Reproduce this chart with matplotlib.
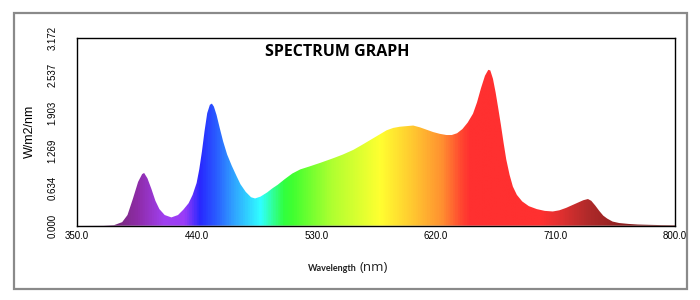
import numpy as np
import matplotlib
matplotlib.use("Agg")
import matplotlib.pyplot as plt
from matplotlib.colors import LinearSegmentedColormap
from matplotlib.patches import Rectangle

# ---- data ----
wavelength = [350, 370, 378, 384, 388, 392, 396, 399, 400.5, 403, 406, 409, 412, 416, 421,
              426, 430, 434, 437, 440, 442, 444, 446, 448, 450, 451.5, 453, 455, 457.5, 460,
              463, 466.5, 470, 473, 477, 481, 484, 488, 493, 497, 501, 506, 512, 518, 525,
              533, 543, 550, 558, 565, 571, 577, 583, 588, 593, 598, 603, 608, 613, 618,
              623, 628, 632, 636, 640, 644, 648, 651, 654, 657, 659.5, 661, 663, 665, 667,
              669, 671, 673, 675.5, 678, 681, 685, 690, 696, 702, 708, 713, 718, 723, 727,
              731, 734.5, 737, 740, 743, 746, 749, 753, 758, 765, 772, 780, 790, 800]
irradiance = [0.0, 0.002, 0.01, 0.06, 0.18, 0.45, 0.74, 0.87, 0.89, 0.80, 0.62, 0.42, 0.28, 0.18, 0.14,
              0.18, 0.27, 0.38, 0.52, 0.72, 0.95, 1.25, 1.60, 1.90, 2.04, 2.06, 2.01, 1.87, 1.64, 1.42,
              1.20, 1.01, 0.84, 0.70, 0.57, 0.48, 0.46, 0.49, 0.56, 0.63, 0.69, 0.78, 0.88, 0.95, 1.00,
              1.06, 1.14, 1.20, 1.28, 1.37, 1.45, 1.53, 1.61, 1.65, 1.67, 1.68, 1.69, 1.66, 1.62, 1.58,
              1.55, 1.53, 1.53, 1.56, 1.63, 1.74, 1.89, 2.08, 2.32, 2.53, 2.63, 2.62, 2.48, 2.25, 1.98,
              1.70, 1.40, 1.12, 0.86, 0.66, 0.52, 0.41, 0.33, 0.28, 0.25, 0.24, 0.26, 0.30, 0.35, 0.39,
              0.43, 0.45, 0.42, 0.34, 0.25, 0.17, 0.12, 0.07, 0.045, 0.03, 0.02, 0.015, 0.01, 0.008]
x_ticks = [350.0, 440.0, 530.0, 620.0, 710.0, 800.0]
y_ticks = [0.000, 0.634, 1.269, 1.903, 2.537, 3.172]
title = "SPECTRUM GRAPH"
y_label = "W/m2/nm"

# ---- colour gradient (style) ----
stops = [(350, "#5a1a5a"), (380, "#7a2a80"), (395, "#8e2ca8"), (415, "#a040f0"),
         (430, "#9a3cf8"), (442, "#2828ff"), (455, "#2a60ff"), (467, "#30a0ff"),
         (488, "#30ffff"), (505, "#30ff40"), (512, "#40ff30"), (542, "#b0ff30"),
         (578, "#ffff30"), (606, "#ffc030"), (625, "#ff9030"), (640, "#ff4530"),
         (646, "#ff3030"), (700, "#ff3030"), (715, "#e03030"), (735, "#b02a2a"),
         (760, "#902020"), (800, "#701818")]
xmin, xmax = x_ticks[0], x_ticks[-1]
ymin, ymax = y_ticks[0], y_ticks[-1]
cmap = LinearSegmentedColormap.from_list(
    "spec", [((w - xmin) / (xmax - xmin), c) for w, c in stops])

fig = plt.figure(figsize=(7, 3), dpi=100)
fig.patch.set_facecolor("white")
fig.patches.append(Rectangle((14 / 700, 1 - 288.7 / 300), (686.7 - 14) / 700,
                             (288.7 - 13.3) / 300, transform=fig.transFigure,
                             fill=False, edgecolor="#8a8a8a", lw=1.6))

ax = fig.add_axes([77 / 700, 1 - 225.7 / 300, (675 - 77) / 700, (225.7 - 37.7) / 300])
ax.set_xlim(xmin, xmax)
ax.set_ylim(ymin, ymax)

poly = ax.fill_between(wavelength, irradiance, 0, color="none", lw=0)
grad = np.linspace(0, 1, 900).reshape(1, -1)
im = ax.imshow(grad, cmap=cmap, aspect="auto", extent=[xmin, xmax, ymin, ymax],
               origin="lower", interpolation="bilinear")
path = poly.get_paths()[0]
im.set_clip_path(path, transform=ax.transData)

for s in ax.spines.values():
    s.set_color("black")
    s.set_linewidth(1.0)

ax.set_xticks(x_ticks)
ax.set_xticklabels([f"{v:.1f}" for v in x_ticks], fontsize=7, family="Liberation Sans")
ax.set_yticks(y_ticks)
ax.set_yticklabels([f"{v:.3f}" for v in y_ticks], fontsize=7, family="Liberation Sans",
                   rotation=90, va="center")
ax.tick_params(axis="both", length=0)
ax.tick_params(axis="x", pad=4)
ax.tick_params(axis="y", pad=14)

ax.text(0.435, 0.925, title, transform=ax.transAxes, ha="center", va="center",
        fontsize=11.5, fontweight="bold", family="Open Sans")

fig.text(30 / 700, 1 - 131 / 300, y_label, rotation=90, ha="center", va="center",
         fontsize=9, family="Liberation Sans")
fig.text(357 / 700, 1 - 271 / 300, "Wavelength", ha="right", va="baseline",
         fontsize=6.5, family="Lato", fontweight="bold", color="#222222")
fig.text(360 / 700, 1 - 271 / 300, "(nm)", ha="left", va="baseline",
         fontsize=9.5, family="Open Sans", color="#222222")

fig.savefig("out.png", dpi=100, facecolor="white")
